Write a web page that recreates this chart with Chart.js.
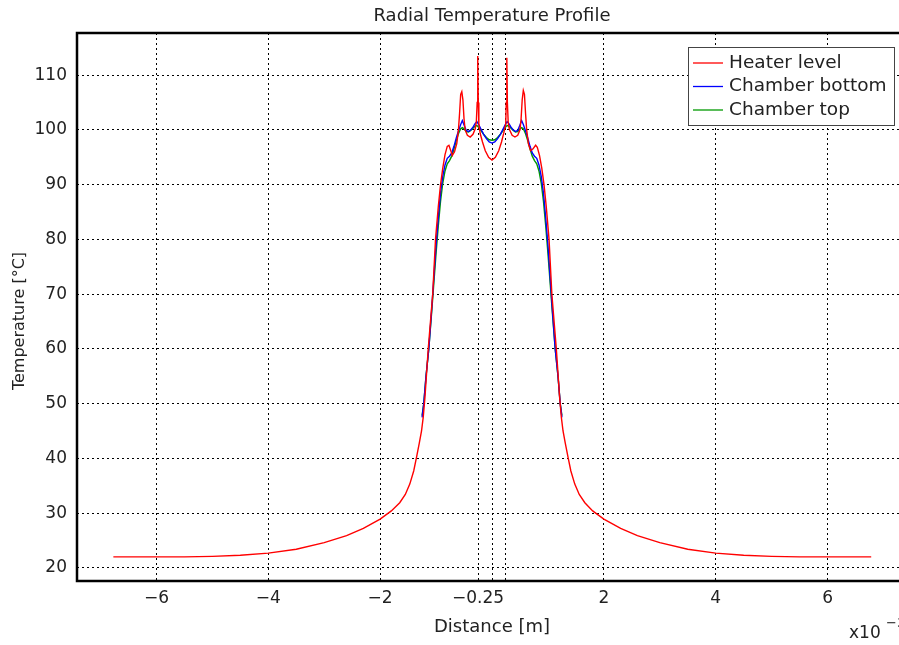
<!DOCTYPE html>
<html>
<head>
<meta charset="utf-8">
<script src="https://cdn.jsdelivr.net/npm/chart.js@4/dist/chart.umd.min.js"></script>
<style>
  html, body { margin: 0; padding: 0; background: #fff; overflow: hidden; }
  #wrap { width: 899px; height: 645px; overflow: hidden; }
</style>
</head>
<body>
<div id="wrap"><canvas id="chart" width="912" height="645"></canvas></div>
<script>
// values (x in units of 1e-3 m)
const heaterX = [-6.77, -6.0, -5.5, -5.0, -4.5, -4.0, -3.5, -3.0, -2.6, -2.3, -2.0, -1.8, -1.65, -1.55, -1.47,
  -1.40, -1.35, -1.30, -1.26, -1.23, -1.20, -1.14, -1.06, -1.01, -0.96, -0.92, -0.88, -0.84, -0.80, -0.77,
  -0.74, -0.71, -0.67, -0.63, -0.60, -0.58, -0.56, -0.54, -0.52, -0.50, -0.48, -0.44, -0.39, -0.34, -0.30,
  -0.28, -0.265, -0.255, -0.245, -0.235, -0.21, -0.17, -0.12, -0.06, 0.0, 0.06, 0.12, 0.17, 0.21, 0.245,
  0.255, 0.265, 0.275, 0.29, 0.31, 0.36, 0.41, 0.46, 0.50, 0.52, 0.54, 0.56, 0.58, 0.60, 0.62, 0.65, 0.69,
  0.73, 0.78, 0.81, 0.85, 0.89, 0.93, 0.97, 1.02, 1.07, 1.15, 1.21, 1.24, 1.27, 1.31, 1.36, 1.41, 1.48,
  1.56, 1.66, 1.8, 2.0, 2.3, 2.6, 3.0, 3.5, 4.0, 4.5, 5.0, 5.5, 6.0, 6.78];
const heaterY = [22.0, 22.0, 22.0, 22.1, 22.3, 22.7, 23.4, 24.6, 25.9, 27.2, 28.9, 30.4, 31.9, 33.4, 35.3,
  37.7, 40.2, 42.8, 45.0, 47.5, 51, 60, 70, 80, 86, 90, 93, 95.5, 97.0, 97.2,
  96.3, 95.3, 96.0, 97.5, 100, 103, 106.5, 107, 105.5, 102, 100.0, 99.0, 98.7, 99.2, 100.2,
  101.5, 105, 113.5, 105, 101, 99.3, 97.8, 96.2, 95.0, 94.5, 95.0, 96.2, 97.8, 99.4, 101,
  105, 113.2, 105, 101.3, 100.1, 99.0, 98.7, 99.0, 100.0, 102, 105.5, 107.2, 106.5, 103, 100, 97.5, 96.2,
  96.5, 97.2, 96.8, 95.3, 93, 90, 86, 80, 70, 60, 51, 47.5, 45.0, 42.8, 40.2, 37.7, 35.3,
  33.4, 31.9, 30.4, 28.9, 27.2, 25.9, 24.6, 23.4, 22.7, 22.3, 22.1, 22.0, 22.0, 22.0];

const chamberX = [-1.25, -1.22, -1.18, -1.13, -1.08, -1.04, -1.00, -0.96, -0.92, -0.88, -0.84, -0.80, -0.76,
  -0.72, -0.68, -0.64, -0.60, -0.56, -0.53, -0.50, -0.46, -0.42, -0.38, -0.34, -0.30, -0.27, -0.24, -0.20,
  -0.15, -0.10, -0.05, 0.0, 0.05, 0.10, 0.15, 0.20, 0.24, 0.27, 0.30, 0.34, 0.38, 0.42, 0.46, 0.50, 0.53,
  0.56, 0.60, 0.64, 0.68, 0.72, 0.76, 0.80, 0.84, 0.88, 0.92, 0.96, 1.00, 1.04, 1.08, 1.13, 1.18, 1.22, 1.25];
const bottomY = [47.5, 50, 55, 60, 67, 73, 79, 84, 88.5, 91.5, 93.6, 94.8, 95.2,
  95.8, 97.0, 98.5, 99.8, 101.0, 101.7, 100.9, 99.9, 99.7, 100.0, 100.5, 101.2, 101.5, 101.0, 100.2,
  99.2, 98.4, 97.8, 97.6, 97.8, 98.4, 99.2, 100.2, 101.0, 101.5, 101.2, 100.5, 100.0, 99.7, 99.9, 100.9, 101.7,
  101.0, 99.8, 98.5, 97.0, 95.8, 95.2, 94.8, 93.6, 91.5, 88.5, 84, 79, 73, 67, 60, 55, 50, 47.5];
const topY = [47.8, 50, 55, 60, 66.5, 72, 77.5, 82.5, 87, 90.3, 92.5, 93.8, 94.4,
  95.2, 96.5, 98.0, 99.3, 100.2, 100.4, 100.2, 99.7, 99.6, 99.9, 100.3, 100.7, 100.8, 100.5, 99.9,
  99.2, 98.6, 98.2, 98.1, 98.2, 98.6, 99.2, 99.9, 100.5, 100.8, 100.7, 100.3, 99.9, 99.6, 99.7, 100.2, 100.4,
  100.2, 99.3, 98.0, 96.5, 95.2, 94.4, 93.8, 92.5, 90.3, 87, 82.5, 77.5, 72, 66.5, 60, 55, 50, 47.8];

const seriesNames = ["Heater level", "Chamber bottom", "Chamber top"];
const seriesColors = ["#ff0000", "#0000ff", "#009900"];

const xTickValues = [-6, -4, -2, -0.25, 0, 0.25, 2, 4, 6];
const xTickLabels = ["\u22126", "\u22124", "\u22122", "\u22120.25", "", "", "2", "4", "6"];
const yTickValues = [20, 30, 40, 50, 60, 70, 80, 90, 100, 110];

const FONT = "'DejaVu Sans', sans-serif";

function toPoints(xs, ys) {
  return xs.map((x, i) => ({ x: x, y: ys[i] }));
}

const extras = {
  id: "extras",
  afterDraw(chart) {
    const ctx = chart.ctx;
    const a = chart.chartArea;
    ctx.save();

    // frame
    ctx.strokeStyle = "#000";
    ctx.lineWidth = 2.5;
    ctx.strokeRect(a.left, a.top, a.right - a.left, a.bottom - a.top);

    // title
    ctx.fillStyle = "#222";
    ctx.font = "18px " + FONT;
    ctx.textAlign = "center";
    ctx.textBaseline = "middle";
    ctx.fillText("Radial Temperature Profile", (a.left + a.right) / 2, 16);

    // y axis title
    ctx.save();
    ctx.translate(20, 321);
    ctx.rotate(-Math.PI / 2);
    ctx.font = "16px " + FONT;
    ctx.fillText("Temperature [°C]", 0, 0);
    ctx.restore();

    // legend
    const lx = 688, ly = 47, lw = 206, lh = 78;
    ctx.fillStyle = "#fff";
    ctx.fillRect(lx, ly, lw, lh);
    ctx.strokeStyle = "#444";
    ctx.lineWidth = 1;
    ctx.strokeRect(lx + 0.5, ly + 0.5, lw, lh);
    ctx.font = "18.5px " + FONT;
    ctx.textAlign = "left";
    seriesNames.forEach((name, i) => {
      const y = 63 + i * 23.5;
      ctx.strokeStyle = seriesColors[i];
      ctx.lineWidth = 1.3;
      ctx.beginPath();
      ctx.moveTo(693, y);
      ctx.lineTo(723, y);
      ctx.stroke();
      ctx.fillStyle = "#222";
      ctx.fillText(name, 729, y);
    });

    // exponent note
    ctx.fillStyle = "#222";
    ctx.textBaseline = "alphabetic";
    ctx.font = "17px " + FONT;
    ctx.fillText("x10", 849, 638);
    ctx.font = "13px " + FONT;
    ctx.fillText("\u22123", 886, 627);
    ctx.restore();
  }
};

new Chart(document.getElementById("chart"), {
  type: "line",
  data: {
    datasets: [
      { label: seriesNames[0], data: toPoints(heaterX, heaterY), borderColor: seriesColors[0] },
      { label: seriesNames[1], data: toPoints(chamberX, bottomY), borderColor: seriesColors[1] },
      { label: seriesNames[2], data: toPoints(chamberX, topY), borderColor: seriesColors[2] }
    ]
  },
  options: {
    responsive: false,
    animation: false,
    devicePixelRatio: 1,
    layout: { padding: { top: 33, right: 5, left: 0, bottom: 0 } },
    elements: {
      line: { borderWidth: 1.4, tension: 0, fill: false },
      point: { radius: 0 }
    },
    plugins: {
      legend: { display: false },
      title: { display: false },
      tooltip: { enabled: false }
    },
    scales: {
      x: {
        type: "linear",
        min: -7.42,
        max: 7.42,
        afterBuildTicks: (s) => { s.ticks = xTickValues.map((v) => ({ value: v })); },
        afterFit: (s) => { s.height = 64; },
        ticks: {
          autoSkip: false,
          maxRotation: 0,
          padding: 7,
          color: "#222",
          font: { family: FONT, size: 17 },
          callback: (v, i) => xTickLabels[i]
        },
        grid: { color: "#000", lineWidth: 1, drawTicks: false },
        border: { display: false, dash: [2, 3] },
        title: {
          display: true,
          text: "Distance [m]",
          color: "#222",
          font: { family: FONT, size: 18 },
          padding: { top: 0, bottom: 7 }
        }
      },
      y: {
        min: 17.6,
        max: 117.7,
        afterBuildTicks: (s) => { s.ticks = yTickValues.map((v) => ({ value: v })); },
        afterFit: (s) => { s.width = 77; },
        ticks: {
          padding: 10,
          color: "#222",
          font: { family: FONT, size: 17 }
        },
        grid: { color: "#000", lineWidth: 1, drawTicks: false },
        border: { display: false, dash: [2, 3] }
      }
    }
  },
  plugins: [extras]
});
</script>
</body>
</html>
